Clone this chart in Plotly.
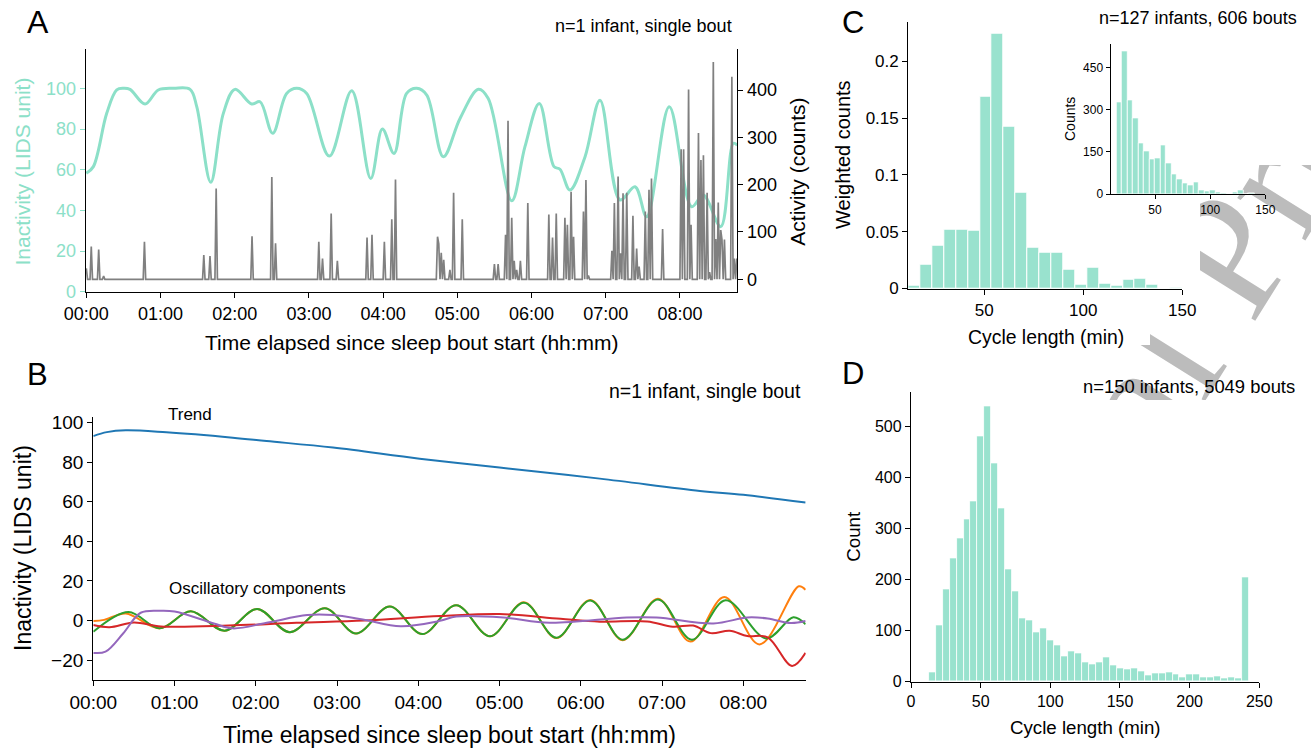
import base64
import plotly.graph_objects as go

W, H = 1311, 749
def px(x): return x / W
def py(y): return 1 - y / H

FONT = "Liberation Sans, Arial, sans-serif"
TEAL_LINE = "rgb(140,224,200)"
TEAL_TXT = "rgb(140,224,200)"
BAR = "rgb(153,226,206)"

# ---------------- Panel A data ----------------
hours_vals = [0, 60, 120, 180, 240, 300, 360, 420, 480]
hours_text = ["00:00", "01:00", "02:00", "03:00", "04:00", "05:00", "06:00", "07:00", "08:00"]

lids_t = [0, 5.7, 16.5, 24.6, 30, 35.3, 47.5, 58.2, 71, 83.9, 89.3, 100.6, 110.8, 120.2, 133.7,
          140.5, 150.7, 162.0, 170.1, 178.2, 196.5, 214.6, 230, 239.4, 248.8, 259, 267.2, 275.3,
          288.7, 302.2, 317, 325, 344, 354.7, 366.3, 378.2, 383, 391.1, 403.3, 415.4, 431.6,
          443.7, 453.1, 471.4, 489.5, 498.9, 513, 523.2, 526.4]
lids_v = [58.2, 61.5, 87.7, 99.2, 100, 99.5, 92.3, 99.2, 100, 99.5, 91, 53.8, 87.7, 99.5, 92.3,
          93.4, 77.9, 97.5, 100, 97.5, 66.7, 98.8, 55.7, 80, 68, 97.5, 100, 96.7,
          66.4, 85.2, 99.5, 95, 44.7, 71.3, 92.6, 61.5, 60.2, 50, 66.4, 94.2, 45.1,
          51.6, 36.9, 91, 41.8, 47.5, 32, 73, 72]

spike_min = [0, 4, 10, 14, 47, 95, 100, 105, 134, 150, 153, 188, 191, 198, 203, 227, 231, 241,
             247, 250, 284, 285, 287, 289, 294, 297, 304, 330, 333, 339, 341, 344, 346, 348,
             351, 357, 374, 377, 380, 387, 389, 392, 394, 402, 404, 406, 425, 427, 430, 432,
             434, 437, 442, 445, 447, 452, 455, 457, 466, 481, 483, 487, 489, 495, 497, 499,
             502, 504, 507, 509, 511, 513, 514, 516, 522, 524, 526]
spike_cnt = [23, 69, 63, 7, 79, 51, 49, 192, 91, 216, 76, 79, 44, 139, 39, 88, 94, 79,
             127, 211, 90, 75, 56, 41, 20, 183, 127, 32, 32, 94, 335, 130, 39, 20,
             39, 161, 137, 88, 139, 130, 115, 185, 90, 143, 210, 8, 60, 161, 217, 55,
             182, 183, 134, 65, 27, 143, 189, 213, 106, 275, 275, 401, 115, 309, 252, 262,
             183, 15, 459, 85, 162, 104, 84, 84, 428, 44, 44]

# ---------------- Panel B data ----------------
trend_t = [0, 10, 24, 54, 103, 128, 177, 241, 300, 374, 448, 480, 526]
trend_v = [93.2, 95.2, 96.1, 95.1, 92.4, 90.7, 87.4, 81.8, 77.3, 71.7, 65.5, 63.5, 59.6]

orange_t = [0, 8, 24, 49, 72, 97, 121, 145, 171, 194, 219, 243, 268, 293, 318, 342, 367,
            391, 417, 441, 466, 492, 521, 526]
orange_v = [-0.3, 0.3, 3.5, -4.0, 4.6, -5.2, 5.8, -5.9, 6.2, -6.6, 7.0, -6.9, 7.7, -8.0, 9.2,
            -8.9, 10.4, -10.0, 11.0, -10.7, 11.8, -12.1, 17.3, 15.5]

green_t = [0, 26, 49, 72, 97, 121, 145, 171, 194, 219, 243, 268, 293, 318, 342, 367, 391,
           417, 442, 467, 497, 517, 526]
green_v = [-5.7, 4.3, -4.0, 4.6, -5.2, 5.8, -5.9, 6.2, -6.6, 7.0, -6.9, 7.7, -8.0, 9.0,
           -8.7, 10.1, -9.7, 10.6, -9.7, 10.2, -9.1, 1.6, -1.9]

red_t = [0, 12, 30, 50, 100, 150, 200, 256, 300, 345, 374, 409, 428, 443, 456, 470, 483,
         498, 516, 526]
red_v = [-2.3, -3.4, -1.0, -3.0, -2.6, -1.2, 0.0, 2.2, 3.3, 0.8, -0.6, -0.5, -3.2, -2.6,
         -6.4, -5.2, -7.9, -8.5, -23.0, -16.4]

purple_t = [0, 9, 22, 35, 50, 60, 89, 103, 128, 158, 177, 199, 227, 256, 268, 303, 337,
            394, 416, 458, 483, 498, 515, 526]
purple_v = [-16.4, -15.8, -6.6, 3.9, 4.9, 4.5, -1.5, -4.0, -1.2, 2.7, 2.7, 0.5, -2.9, -0.2,
            2.0, 1.5, -1.2, 1.5, 1.5, -1.5, 1.5, 1.0, -1.3, -0.3]

# ---------------- Panel C data ----------------
c_bin_start, c_bin_width = 11.6, 6.02
c_weighted = [0.002, 0.0211, 0.0373, 0.0514, 0.0514, 0.0505, 0.1686, 0.2241, 0.1427, 0.0846,
              0.0355, 0.0317, 0.0317, 0.0162, 0.0029, 0.0179, 0.0044, 0.002, 0.0073, 0.0082,
              0.0029, 0.0, 0.0004]

inset_bin_start, inset_bin_width = 15, 5
inset_counts = [327, 509, 332, 270, 181, 152, 122, 128, 175, 108, 69, 51, 37, 30, 40, 12, 8,
                15, 6, 3.5, 0, 7, 12, 0, 3.5]

# ---------------- Panel D data ----------------
d_bin_start, d_bin_width = 12.7, 5.0
d_counts = [18, 110, 181, 241, 281, 318, 353, 481, 539, 428, 339, 220, 176, 123, 120, 95, 104,
            81, 71, 49, 59, 54, 38, 34, 38, 46, 31, 26, 23, 26, 20, 11, 16, 16, 18, 14, 8, 14,
            13, 8, 7, 9, 5, 8, 5, 204]

# ---------------- build ----------------
act_t = list(range(0, 527))
act_v = [0] * 527
for m, c in zip(spike_min, spike_cnt):
    act_v[m] = c

fig = go.Figure()

fig.add_trace(go.Scatter(x=lids_t, y=lids_v, mode="lines", line=dict(color=TEAL_LINE, width=3, shape="spline"),
                         xaxis="x", yaxis="y", showlegend=False))
fig.add_trace(go.Scatter(x=act_t, y=act_v, mode="lines", line=dict(color="rgb(128,128,128)", width=1.7),
                         xaxis="x", yaxis="y2", showlegend=False))

for tt, vv, col in [(trend_t, trend_v, "#1f77b4"), (orange_t, orange_v, "#ff7f0e"),
                    (green_t, green_v, "#2ca02c"), (red_t, red_v, "#d62728"),
                    (purple_t, purple_v, "#9467bd")]:
    fig.add_trace(go.Scatter(x=tt, y=vv, mode="lines", line=dict(color=col, width=2, shape="spline"),
                             xaxis="x2", yaxis="y3", showlegend=False))

def centers(start, width, n):
    return [start + width * (i + 0.5) for i in range(n)]

fig.add_trace(go.Bar(x=centers(c_bin_start, c_bin_width, len(c_weighted)), y=c_weighted, width=c_bin_width,
                     marker=dict(color=BAR, line=dict(color="white", width=1)), xaxis="x3", yaxis="y4",
                     showlegend=False))
fig.add_trace(go.Bar(x=centers(inset_bin_start, inset_bin_width, len(inset_counts)), y=inset_counts,
                     width=inset_bin_width, marker=dict(color=BAR, line=dict(color="white", width=0.8)),
                     xaxis="x4", yaxis="y5", showlegend=False))
fig.add_trace(go.Bar(x=centers(d_bin_start, d_bin_width, len(d_counts)), y=d_counts, width=d_bin_width,
                     marker=dict(color=BAR, line=dict(color="white", width=0.8)), xaxis="x5", yaxis="y6",
                     showlegend=False))

def ax(**kw):
    base = dict(showline=True, linecolor="black", linewidth=1.3, ticks="outside", ticklen=5, tickwidth=1.2,
                tickcolor="black", showgrid=False, zeroline=False, mirror=False, automargin=False,
                tickfont=dict(family=FONT, size=18, color="black"))
    base.update(kw)
    return base

# "Journal Pre-proof" watermark, only visible in the gaps between the panels
ax_, ay_, ang, fs = 1252, 326, -58, 175
svg = (
    "<svg xmlns='http://www.w3.org/2000/svg' width='1311' height='749' viewBox='0 0 1311 749'>"
    "<defs><clipPath id='c'><path d='M1200,165 H1311 V400 H1105 V345 H1150 V285 H1200 Z'/></clipPath></defs>"
    "<g clip-path='url(#c)' font-family='Liberation Serif, Times New Roman, serif' font-size='%d' fill='#bcbcbc'>"
    "<text x='%g' y='%g' transform='rotate(%g %g %g)'>Pre-proof</text>"
    "<text x='%g' y='%g' text-anchor='end' transform='rotate(%g %g %g)'>Journal</text>"
    "</g></svg>"
) % (fs, ax_, ay_, ang, ax_, ay_, ax_ - 0.25 * fs, ay_, ang, ax_, ay_)
svg_uri = "data:image/svg+xml;base64," + base64.b64encode(svg.encode()).decode()

fig.update_layout(
    width=W, height=H, margin=dict(l=0, r=0, t=0, b=0, autoexpand=False),
    paper_bgcolor="white", plot_bgcolor="rgba(0,0,0,0)", bargap=0,
    font=dict(family=FONT, color="black"),
    images=[dict(source=svg_uri, xref="paper", yref="paper", x=0, y=1, sizex=1, sizey=1,
                 xanchor="left", yanchor="top", sizing="stretch", layer="below")],
    xaxis=ax(domain=[px(85.7), px(737.3)], anchor="y", range=[-0.5, 526.4],
             tickmode="array", tickvals=hours_vals, ticktext=hours_text),
    yaxis=ax(domain=[py(292.3), py(49.3)], anchor="x", range=[-0.3, 119.2],
             tickmode="array", tickvals=[0, 20, 40, 60, 80, 100], tickcolor=TEAL_TXT,
             tickfont=dict(family=FONT, size=18, color=TEAL_TXT)),
    yaxis2=ax(overlaying="y", side="right", anchor="x", range=[-27.5, 486],
              tickmode="array", tickvals=[0, 100, 200, 300, 400]),
    xaxis2=ax(domain=[px(93.3), px(805.7)], anchor="y3", range=[0, 526.1],
              tickmode="array", tickvals=hours_vals, ticktext=hours_text,
              tickfont=dict(family=FONT, size=19, color="black")),
    yaxis3=ax(domain=[py(680), py(417.3)], anchor="x2", range=[-30.1, 102.7],
              tickmode="array", tickvals=[-20, 0, 20, 40, 60, 80, 100],
              tickfont=dict(family=FONT, size=19, color="black")),
    xaxis3=ax(domain=[px(908.3), px(1182.3)], anchor="y4", range=[11.6, 150],
              tickmode="array", tickvals=[50, 100, 150], tickfont=dict(family=FONT, size=17, color="black")),
    yaxis4=ax(domain=[py(289), py(21.7)], anchor="x3", range=[-0.0006, 0.2349],
              tickmode="array", tickvals=[0, 0.05, 0.1, 0.15, 0.2], ticktext=["0", "0.05", "0.1", "0.15", "0.2"],
              tickfont=dict(family=FONT, size=17, color="black")),
    xaxis4=ax(domain=[px(1110.7), px(1265.3)], anchor="y5", range=[9.8, 150], ticklen=4,
              tickmode="array", tickvals=[50, 100, 150], tickfont=dict(family=FONT, size=12, color="black")),
    yaxis5=ax(domain=[py(194.3), py(44.3)], anchor="x4", range=[-1, 533], ticklen=4,
              tickmode="array", tickvals=[0, 150, 300, 450], tickfont=dict(family=FONT, size=12, color="black")),
    xaxis5=ax(domain=[px(911), px(1259.3)], anchor="y6", range=[0, 250],
              tickmode="array", tickvals=[0, 50, 100, 150, 200, 250], tickfont=dict(family=FONT, size=16, color="black")),
    yaxis6=ax(domain=[py(681.7), py(392.3)], anchor="x5", range=[-1, 567],
              tickmode="array", tickvals=[0, 100, 200, 300, 400, 500], tickfont=dict(family=FONT, size=16, color="black")),
)

def note(text, x, y, size, xanchor="center", angle=0, color="black"):
    fig.add_annotation(text=text, x=px(x), y=py(y), xref="paper", yref="paper", showarrow=False,
                       xanchor=xanchor, yanchor="middle", textangle=angle,
                       font=dict(family=FONT, size=size, color=color))

# panel letters
note("A", 37.5, 21.5, 32)
note("B", 37, 374, 31)
note("C", 853, 22.5, 31)
note("D", 853, 373, 31)
# panel A
note("n=1 infant, single bout", 734.3, 26, 18, xanchor="right")
note("Time elapsed since sleep bout start (hh:mm)", 411.5, 343, 21)
note("Inactivity (LIDS unit)", 22, 171.5, 21, angle=-90, color=TEAL_TXT)
note("Activity (counts)", 798, 171.7, 21, angle=-90)
# panel B
note("n=1 infant, single bout", 803.3, 391, 19.5, xanchor="right")
note("Time elapsed since sleep bout start (hh:mm)", 449.7, 735, 23)
note("Inactivity (LIDS unit)", 23, 548, 23, angle=-90)
note("Trend", 189.5, 414.5, 17)
note("Oscillatory components", 167.3, 588.7, 17, xanchor="left")
# panel C
note("n=127 infants, 606 bouts", 1299, 18.3, 18, xanchor="right")
note("Weighted counts", 843, 155, 20, angle=-90)
note("Cycle length (min)", 1046, 336.7, 19.4)
note("Counts", 1070, 119, 14, angle=-90)
# panel D
note("n=150 infants, 5049 bouts", 1296.7, 386.7, 18.4, xanchor="right")
note("Count", 854, 536.7, 18.7, angle=-90)
note("Cycle length (min)", 1085.5, 727.7, 18.7)

fig.write_html("out.html", config={"displayModeBar": False},
               post_script="document.body.style.margin='0px';document.body.style.overflow='hidden';")
